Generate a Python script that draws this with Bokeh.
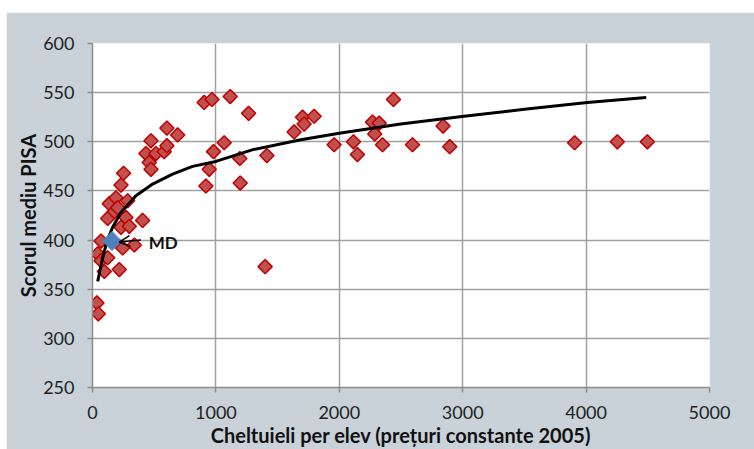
import numpy as np
from bokeh.plotting import figure
from bokeh.models import Range1d, Arrow, OpenHead, Label, FixedTicker
from bokeh.embed import file_html
from bokeh.resources import INLINE

# Countries: spending per student (constant 2005 prices) vs mean PISA score
spend = [36, 47, 42, 69, 69, 96, 123, 123, 136, 177, 190, 204, 217, 231, 252, 231, 244,
         271, 285, 298, 339, 406, 433, 460, 474, 474, 514, 581, 603, 603, 690,
         905, 968, 1116, 1265, 1067, 981, 946, 919, 1194, 1197, 1413, 1399,
         1634, 1702, 1715, 1796, 1958, 2115, 2147, 2269, 2323, 2287, 2350, 2439,
         2593, 2841, 2895, 3907, 4253, 4496]
score = [336, 325, 386, 379, 399, 368, 382, 422, 437, 429, 443, 433, 370, 456, 468, 413, 392,
         423, 440, 414, 395, 420, 488, 479, 472, 501, 488, 490, 496, 514, 507,
         540, 543, 546, 529, 499, 490, 472, 455, 483, 458, 486, 373,
         510, 525, 518, 526, 497, 500, 487, 520, 519, 508, 497, 543,
         497, 516, 495, 499, 500, 500]

md_spend = [158]
md_score = [399]

# Trend line
trend_x = [42, 83, 115, 163, 231, 352, 487, 649, 811, 1000, 1300, 1688, 2012, 2498, 3011, 3500, 4010, 4487]
trend_y = [358, 382, 398, 413, 428, 445, 457, 467, 475, 480, 492, 502, 509, 518, 526, 533, 540, 545]

x_ticks = [0, 1000, 2000, 3000, 4000, 5000]
y_ticks = [250, 300, 350, 400, 450, 500, 550, 600]

FONT = "Lato"
GRID = "#a0a0a0"
BG = "#c8d2d8"

p = figure(width=748, height=437, output_backend="svg", toolbar_location=None,
           x_range=Range1d(0, 5000), y_range=Range1d(250, 600),
           min_border_left=86, min_border_right=45, min_border_top=31, min_border_bottom=61)
p.margin = (12, 0, 0, 6)
p.border_fill_color = BG
p.background_fill_color = "white"
p.outline_line_color = None

p.xaxis.ticker = FixedTicker(ticks=x_ticks)
p.yaxis.ticker = FixedTicker(ticks=y_ticks)
p.xgrid.ticker = FixedTicker(ticks=x_ticks)
p.ygrid.ticker = FixedTicker(ticks=y_ticks)
for g in (p.xgrid, p.ygrid):
    g.grid_line_color = GRID
    g.grid_line_width = 1.5

for ax in (p.xaxis, p.yaxis):
    ax.axis_line_color = "#8c8c8c"
    ax.axis_line_width = 1.5
    ax.major_tick_line_color = "#8c8c8c"
    ax.major_tick_line_width = 1.5
    ax.major_tick_out = 5
    ax.major_tick_in = 0
    ax.minor_tick_line_color = None
    ax.major_label_text_font = FONT
    ax.major_label_text_font_size = "18px"
    ax.major_label_text_color = "#222222"
    ax.major_label_standoff = 13
    ax.axis_label_text_font = FONT
    ax.axis_label_text_font_style = "bold"
    ax.axis_label_text_font_size = "20px"
    ax.axis_label_text_color = "#111111"
p.xaxis.axis_label_standoff = 1
p.yaxis.axis_label_standoff = 0

p.xaxis.axis_label = "Cheltuieli per elev (prețuri constante 2005)"
p.yaxis.axis_label = "Scorul mediu PISA"

p.scatter(spend, score, marker="square", angle=np.pi / 4, size=10,
          fill_color="#c0504d", line_color="#c00000", line_width=1.5)
p.line(trend_x, trend_y, line_color="black", line_width=3)
p.scatter(md_spend, md_score, marker="square", angle=np.pi / 4, size=13.5,
          fill_color="#4f81bd", line_color="#4f81bd", line_width=1)

p.add_layout(Arrow(end=OpenHead(size=11, line_width=1.5, line_color="black"),
                   x_start=393, y_start=400, x_end=215, y_end=398,
                   line_width=1.5, line_color="black"))
p.add_layout(Label(x=455, y=398, text="MD", text_font=FONT, text_font_style="bold",
                   text_font_size="17px", text_baseline="middle", text_color="#111111"))

open("out.html", "w").write(file_html(p, INLINE))
